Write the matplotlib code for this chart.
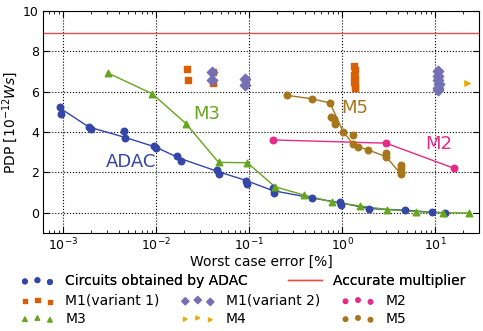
import numpy as np
import matplotlib
matplotlib.use('Agg')
import matplotlib.pyplot as plt

plt.rcParams['xtick.direction'] = 'in'
plt.rcParams['ytick.direction'] = 'in'
plt.rcParams['xtick.top'] = True
plt.rcParams['ytick.right'] = True
plt.rcParams['font.size'] = 10
plt.rcParams['xtick.labelsize'] = 9
plt.rcParams['ytick.labelsize'] = 9

# ADAC circuits (all points)
adac_x = [9.2e-4, 9.5e-4, 1.89e-3, 1.99e-3, 4.53e-3, 4.7e-3, 9.4e-3, 1.0e-2,
          1.69e-2, 1.87e-2, 4.53e-2, 4.77e-2, 0.093, 0.096, 0.182, 0.185,
          0.47, 0.95, 0.975, 1.96, 4.8, 9.3, 12.8]
adac_y = [5.25, 4.89, 4.27, 4.16, 4.04, 3.73, 3.33, 3.23,
          2.80, 2.57, 2.10, 1.94, 1.59, 1.42, 1.21, 0.99,
          0.74, 0.54, 0.41, 0.21, 0.13, 0.03, 0.01]
# ADAC front line
adac_lx = [9.2e-4, 1.9e-3, 4.7e-3, 1.0e-2, 1.8e-2, 4.6e-2, 0.093, 0.18,
           0.47, 0.95, 1.96, 4.8, 9.3, 12.8]
adac_ly = [5.2, 4.25, 3.73, 3.25, 2.7, 2.05, 1.6, 1.1,
           0.74, 0.5, 0.21, 0.13, 0.03, 0.01]

m1v1_x = [0.0214, 0.0222, 0.0407, 0.0407, 1.33, 1.36, 1.34, 1.38, 1.35, 1.37, 1.36]
m1v1_y = [7.14, 6.56, 6.96, 6.43, 7.25, 7.05, 6.85, 6.7, 6.5, 6.35, 6.2]

m1v2_x = [0.0404, 0.0404, 0.0906, 0.0906, 10.8, 10.7, 10.8, 10.9, 10.8, 10.8]
m1v2_y = [6.98, 6.6, 6.65, 6.35, 7.0, 6.8, 6.6, 6.4, 6.2, 6.1]

m2_x = [0.18, 2.97, 16.1]
m2_y = [3.61, 3.45, 2.2]

m3_x = [3.02e-3, 9.1e-3, 0.021, 0.047, 0.096, 0.19, 0.39, 0.78, 1.56, 3.07, 6.2, 12.0, 23.2]
m3_y = [6.93, 5.9, 4.42, 2.50, 2.48, 1.29, 0.88, 0.54, 0.34, 0.16, 0.06, 0.0, 0.0]

m4_x = [21.9]
m4_y = [6.43]

m5_x = [0.254, 0.472, 0.743, 0.76, 0.82, 0.83, 1.03, 1.32, 1.32, 1.47, 1.92,
        2.97, 2.97, 4.28, 4.28, 4.28, 4.28]
m5_y = [5.82, 5.65, 5.44, 4.77, 4.64, 4.39, 4.0, 3.84, 3.40, 3.28, 3.11,
        2.98, 2.78, 2.37, 2.2, 2.03, 1.92]
m5_lx = [0.254, 0.472, 0.743, 1.03, 1.32, 1.47, 1.92, 2.97, 4.28]
m5_ly = [5.82, 5.65, 5.44, 4.0, 3.40, 3.28, 3.11, 2.78, 1.92]

accurate_pdp = 8.93

c_adac = '#3446a8'
c_m1v1 = '#d95f02'
c_m1v2 = '#7570b3'
c_m2 = '#e7298a'
c_m3 = '#66a61e'
c_m4 = '#e6ab02'
c_m5 = '#a6761d'
c_acc = '#e0504f'

fig = plt.figure(figsize=(4.83, 3.31), dpi=100)
ax = fig.add_axes([0.089, 0.296, 0.903, 0.671])

h_acc = ax.axhline(accurate_pdp, color=c_acc, lw=1.0, label='Accurate multiplier')

ax.plot(adac_lx, adac_ly, '-', color=c_adac, lw=1.0)
h_adac = ax.scatter(adac_x, adac_y, s=22, color=c_adac, zorder=3, label='Circuits obtained by ADAC')

h_m1v1 = ax.scatter(m1v1_x, m1v1_y, s=20, marker='s', color=c_m1v1, zorder=3, label='M1(variant 1)')
h_m1v2 = ax.scatter(m1v2_x, m1v2_y, s=28, marker='D', color=c_m1v2, zorder=4, label='M1(variant 2)')

ax.plot(m2_x, m2_y, '-', color=c_m2, lw=1.0)
h_m2 = ax.scatter(m2_x, m2_y, s=22, color=c_m2, zorder=3, label='M2')

ax.plot(m3_x, m3_y, '-', color=c_m3, lw=1.0)
h_m3 = ax.scatter(m3_x, m3_y, s=22, marker='^', color=c_m3, zorder=3, label='M3')

h_m4 = ax.scatter(m4_x, m4_y, s=14, marker='>', color=c_m4, zorder=3, label='M4')

ax.plot(m5_lx, m5_ly, '-', color=c_m5, lw=1.0)
h_m5 = ax.scatter(m5_x, m5_y, s=22, color=c_m5, zorder=3, label='M5')

ax.text(2.9e-3, 2.5, 'ADAC', color=c_adac, fontsize=13, va='center')
ax.text(2.5e-2, 4.9, 'M3', color=c_m3, fontsize=13, va='center')
ax.text(0.97, 5.2, 'M5', color=c_m5, fontsize=13, va='center')
ax.text(7.9, 3.4, 'M2', color=c_m2, fontsize=13, va='center')

ax.set_xscale('log')
ax.set_xlim(6.1e-4, 29.7)
ax.set_ylim(-1, 10)
ax.set_yticks([0, 2, 4, 6, 8, 10])
ax.grid(True, which='major', color='black', linestyle=':', lw=0.8)
ax.tick_params(which='major', length=4, pad=3)
ax.tick_params(which='minor', length=2)
ax.set_xlabel('Worst case error [%]', labelpad=1)
ax.set_ylabel(r'PDP [$10^{-12} W s$]', labelpad=2)

leg_kw = dict(loc='upper left', frameon=False, scatterpoints=3, markerscale=0.7,
              handlelength=2.4, handletextpad=0.8, borderpad=0, borderaxespad=0,
              fontsize=10)
leg1 = fig.legend([h_adac, h_acc], ['Circuits obtained by ADAC', 'Accurate multiplier'],
                  ncol=2, bbox_to_anchor=(0.043, 0.172), columnspacing=2.9, **leg_kw)
fig.add_artist(leg1)
fig.legend([h_m1v1, h_m3, h_m1v2, h_m4, h_m2, h_m5],
           ['M1(variant 1)', 'M3', 'M1(variant 2)', 'M4', 'M2', 'M5'],
           ncol=3, bbox_to_anchor=(0.043, 0.112), columnspacing=1.55,
           labelspacing=0.28, **leg_kw)

fig.savefig('out.png', dpi=100)
